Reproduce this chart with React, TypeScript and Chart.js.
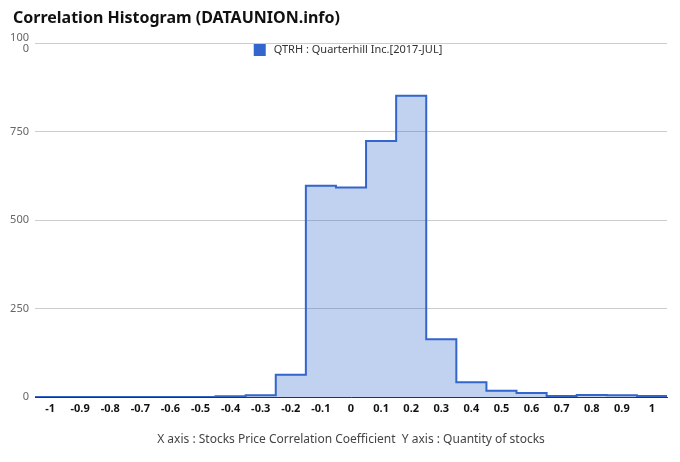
import React, { useEffect, useRef } from "react";
import { Chart, registerables } from "chart.js";

Chart.register(...registerables);

const binCenters = [-1, -0.9, -0.8, -0.7, -0.6, -0.5, -0.4, -0.3, -0.2, -0.1, 0, 0.1, 0.2, 0.3, 0.4, 0.5, 0.6, 0.7, 0.8, 0.9, 1];
const tickLabels = ["-1", "-0.9", "-0.8", "-0.7", "-0.6", "-0.5", "-0.4", "-0.3", "-0.2", "-0.1", "0", "0.1", "0.2", "0.3", "0.4", "0.5", "0.6", "0.7", "0.8", "0.9", "1"];
const counts = [0, 0, 0, 0, 0, 0, 2, 5, 63, 597, 592, 723, 851, 163, 42, 18, 11, 3, 6, 5, 3];
const seriesLabel = "QTRH : Quarterhill Inc.[2017-JUL]";
const titleText = "Correlation Histogram (DATAUNION.info)";
const xTitle = "X axis : Stocks Price Correlation Coefficient  Y axis : Quantity of stocks";
const yTicks = [0, 250, 500, 750, 1000];

const BLUE = "#3366cc";
const FONT = "'Noto Sans', sans-serif";

export default function App() {
  const ref = useRef<HTMLCanvasElement>(null);
  useEffect(() => {
    document.body.style.margin = "0";
    const half = 0.05;
    const pts = counts.map((v, i) => ({ x: binCenters[i] - half, y: v }));
    pts.push({ x: binCenters[binCenters.length - 1] + half, y: counts[counts.length - 1] });

    const decorPlugin = {
      id: "decor",
      afterDraw(chart: any) {
        const ctx = chart.ctx;
        const ca = chart.chartArea;
        ctx.save();
        // title
        ctx.font = `bold 16px ${FONT}`;
        ctx.fillStyle = "#111";
        ctx.textBaseline = "middle";
        ctx.textAlign = "left";
        ctx.fillText(titleText, 13, 18);
        // legend
        ctx.font = `11px ${FONT}`;
        const tw = ctx.measureText(seriesLabel).width;
        const box = 12;
        const gap = 8;
        const total = box + gap + tw;
        const cx = (ca.left + ca.right) / 2 - 3;
        const x0 = cx - total / 2;
        const y0 = ca.top + 1;
        ctx.fillStyle = BLUE;
        ctx.fillRect(x0, y0, box, box);
        ctx.fillStyle = "#333";
        ctx.fillText(seriesLabel, x0 + box + gap, y0 + box / 2);
        ctx.restore();
      },
    };

    const chart = new Chart(ref.current!, {
      type: "line",
      data: {
        datasets: [
          {
            label: seriesLabel,
            data: pts,
            stepped: "before",
            borderColor: BLUE,
            borderWidth: 2,
            backgroundColor: "rgba(51,102,204,0.3)",
            fill: "origin",
            pointRadius: 0,
            tension: 0,
          },
        ],
      },
      options: {
        animation: false,
        responsive: false,
        layout: { padding: { left: 0, right: 13, top: 43, bottom: 0 } },
        plugins: {
          legend: { display: false },
          tooltip: { enabled: false },
          title: { display: false },
        },
        scales: {
          x: {
            type: "linear",
            min: binCenters[0] - half,
            max: binCenters[binCenters.length - 1] + half,
            afterBuildTicks: (scale: any) => {
              scale.ticks = binCenters.map((v) => ({ value: v }));
            },
            afterFit: (scale: any) => {
              scale.height = 65;
            },
            grid: { display: false, drawTicks: false },
            border: { display: true, color: "#333", width: 1 },
            ticks: {
              autoSkip: false,
              maxRotation: 0,
              padding: 5,
              color: "#111",
              font: { family: FONT, size: 11, weight: "bold" },
              callback: (_v: any, i: number) => tickLabels[i],
            },
            title: {
              display: true,
              text: xTitle,
              color: "#444",
              font: { family: FONT, size: 12 },
              padding: { top: 3, bottom: 15 },
            },
          },
          y: {
            min: 0,
            max: 1000,
            afterBuildTicks: (scale: any) => {
              scale.ticks = yTicks.map((v) => ({ value: v }));
            },
            afterFit: (scale: any) => {
              scale.width = 35;
            },
            grid: { color: "#cccccc", drawTicks: false },
            border: { display: false },
            ticks: {
              padding: 6,
              color: "#666",
              font: { family: FONT, size: 11, lineHeight: 1 },
              callback: (v: any) => (v === 1000 ? ["100", "0"] : String(v)),
            },
          },
        },
      } as any,
      plugins: [decorPlugin],
    });
    return () => chart.destroy();
  }, []);
  return (
    <div style={{ width: 680, height: 462 }}>
      <canvas ref={ref} width={680} height={462} style={{ width: 680, height: 462, display: "block" }} />
    </div>
  );
}
